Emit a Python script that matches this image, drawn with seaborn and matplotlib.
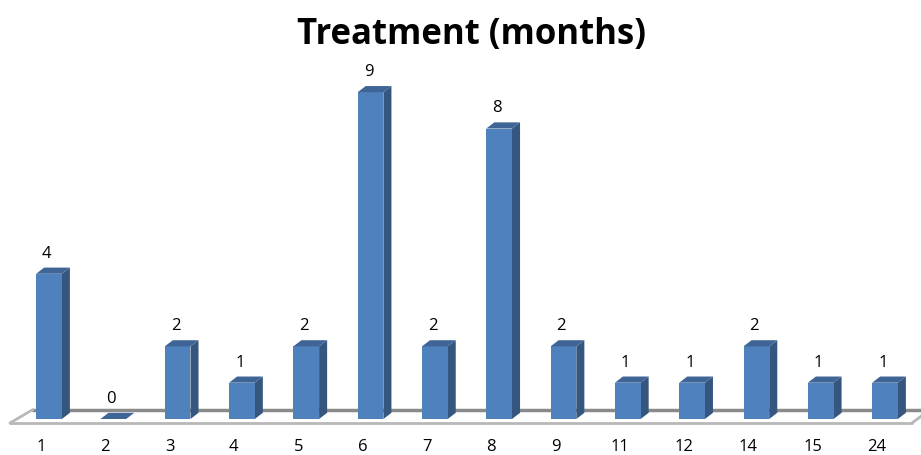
import matplotlib
matplotlib.use("Agg")
import matplotlib.pyplot as plt
from matplotlib.patches import Polygon
from matplotlib.transforms import ScaledTranslation
import seaborn as sns

categories = ["1", "2", "3", "4", "5", "6", "7", "8", "9", "11", "12", "14", "15", "24"]
counts = [4, 0, 2, 1, 2, 9, 2, 8, 2, 1, 1, 2, 1, 1]
title = "Treatment (months)"

FRONT = "#4F81BD"
SIDE = "#34567F"
TOP = "#3E6596"

sns.set_style("white")
plt.rcParams["font.family"] = ["Open Sans", "DejaVu Sans"]

fig = plt.figure(figsize=(9.21, 4.55), dpi=100)
ax = fig.add_axes([0, (455 - 419) / 455, 1, 419 / 455])

sns.barplot(x=categories, y=counts, order=categories, width=0.4,
            color=FRONT, saturation=1, linewidth=0, edgecolor="none",
            ax=ax, zorder=3)

ax.set_xlim(-0.762, 13.56)
ax.set_ylim(0, 11.54)

# 3D depth of each bar (in data units)
ddx, ddy = 0.125, 0.17

# floor of the 3D plot
ax.plot([-0.25, 13.7], [0.26, 0.26], color="#8A8A8A", lw=2.5, zorder=1, clip_on=False)
ax.plot([-0.607, 13.42], [-0.11, -0.11], color="#B8B8B8", lw=2, zorder=1, clip_on=False)
ax.plot([-0.607, -0.25], [-0.11, 0.26], color="#B8B8B8", lw=2, zorder=1, clip_on=False)
ax.plot([13.42, 13.7], [-0.11, 0.26], color="#B8B8B8", lw=2, zorder=1, clip_on=False)

for rect, val in zip(list(ax.patches), counts):
    x0 = rect.get_x()
    x1 = x0 + rect.get_width()
    h = rect.get_height()
    side = Polygon([(x1, 0), (x1 + ddx, ddy), (x1 + ddx, h + ddy), (x1, h)],
                   closed=True, facecolor=SIDE, edgecolor="none", zorder=2.9)
    top = Polygon([(x0, h), (x0 + ddx, h + ddy), (x1 + ddx, h + ddy), (x1, h)],
                  closed=True, facecolor=TOP, edgecolor="none", zorder=3.1)
    ax.add_patch(side)
    ax.add_patch(top)
    ax.annotate(str(val), ((x0 + x1) / 2, h), xytext=(-1.5, 14.5),
                textcoords="offset points", ha="center", va="center",
                fontsize=12, color="black", zorder=5, annotation_clip=False)

ax.set_xlabel("")
ax.set_ylabel("")
ax.set_yticks([])
ax.tick_params(axis="x", length=0, pad=14.5, labelsize=12, labelcolor="black")
for lab in ax.get_xticklabels():
    lab.set_transform(lab.get_transform() + ScaledTranslation(-0.08, 0, fig.dpi_scale_trans))
for s in ax.spines.values():
    s.set_visible(False)

fig.text(471 / 921, 1 - 35 / 455, title, ha="center", va="center",
         fontsize=25, fontweight="bold", color="black")

fig.savefig("out.png", dpi=100)
